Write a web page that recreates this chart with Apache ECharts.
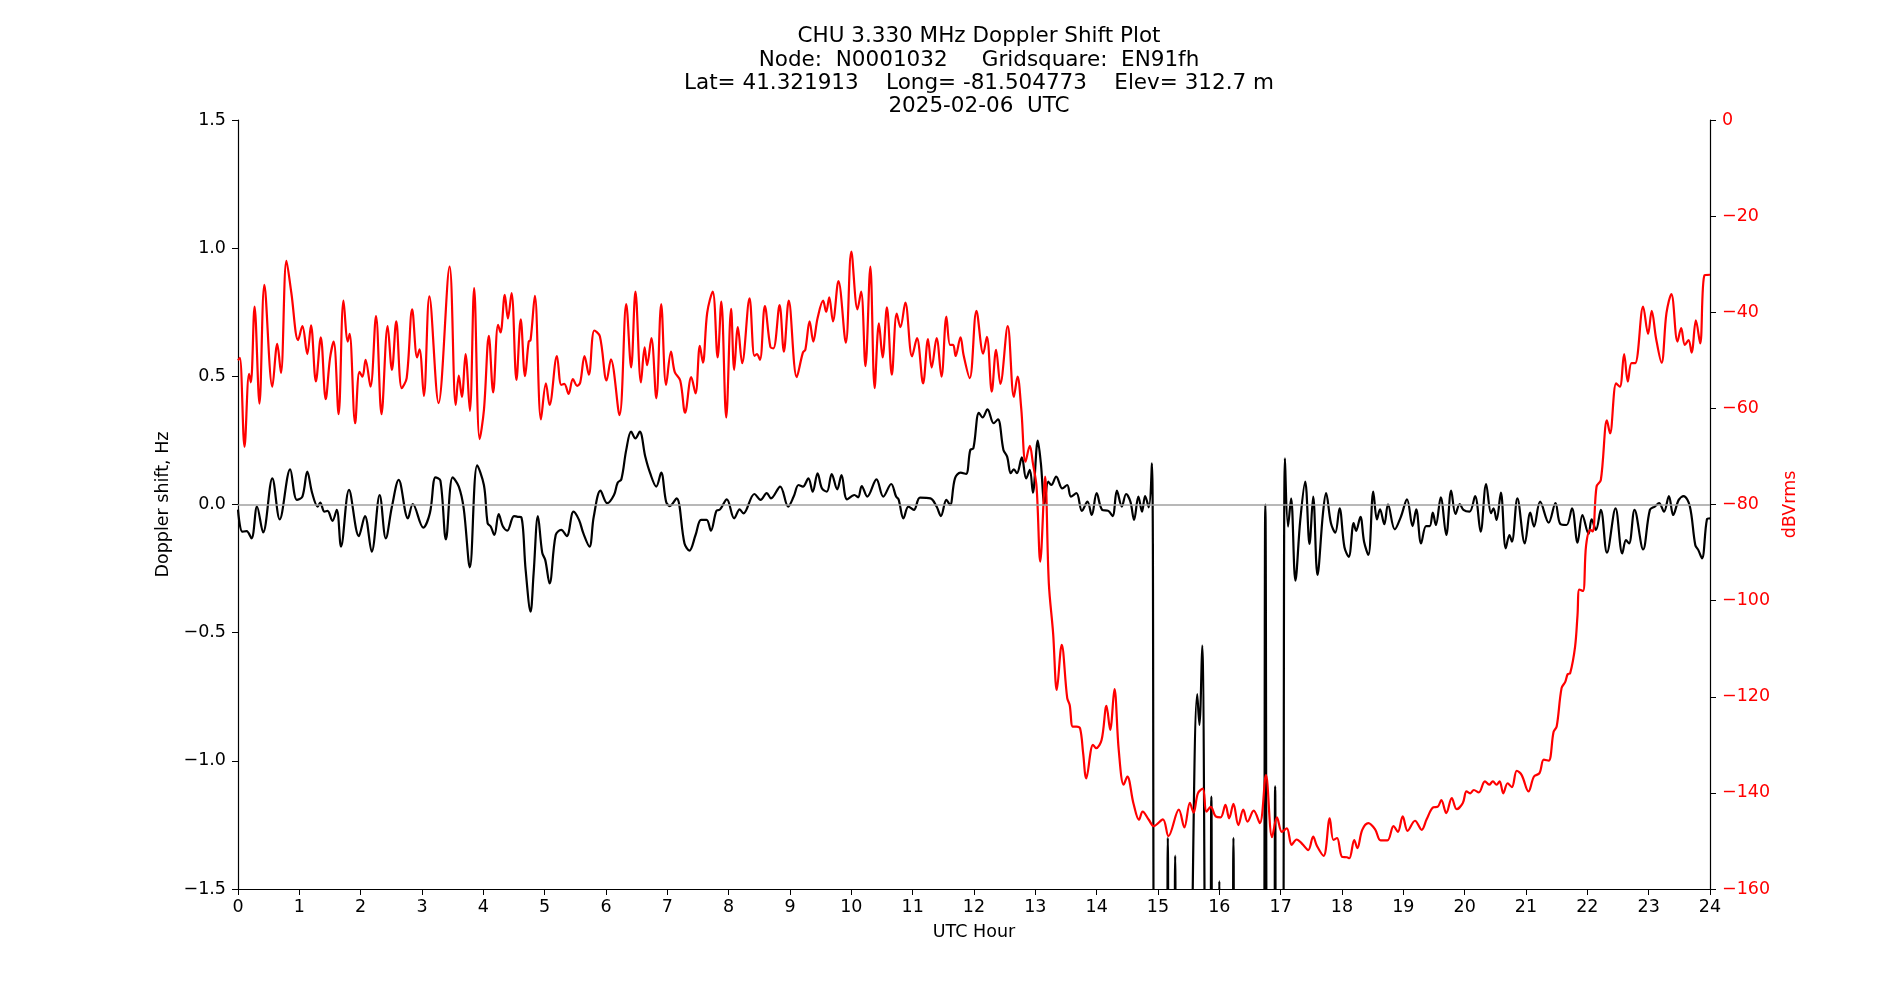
<!DOCTYPE html>
<html>
<head>
<meta charset="utf-8">
<title>CHU 3.330 MHz Doppler Shift Plot</title>
<script src="https://cdn.jsdelivr.net/npm/echarts@6/dist/echarts.min.js"></script>
<style>
  html, body { margin: 0; padding: 0; background: #ffffff; }
  #chart { width: 1900px; height: 1000px; }
</style>
</head>
<body>
<div id="chart"></div>
<script>
// Doppler shift (Hz) vs UTC hour
const dopplerPoints = [
  [0.00, -0.02], [0.07, -0.106], [0.14, -0.104], [0.22, -0.132], [0.31, -0.008], [0.41, -0.109],
  [0.56, 0.102], [0.68, -0.058], [0.85, 0.137], [0.96, 0.018], [1.05, 0.031], [1.13, 0.128],
  [1.21, 0.044], [1.30, -0.008], [1.34, 0.007], [1.41, -0.028], [1.46, -0.025], [1.54, -0.064],
  [1.61, -0.021], [1.68, -0.164], [1.81, 0.057], [1.97, -0.123], [2.07, -0.045], [2.18, -0.184],
  [2.31, 0.037], [2.41, -0.132], [2.51, -0.008], [2.62, 0.096], [2.77, -0.054], [2.85, 0.002],
  [3.02, -0.09], [3.13, -0.032], [3.22, 0.106], [3.30, 0.093], [3.39, -0.136], [3.50, 0.106],
  [3.60, 0.07], [3.68, -0.015], [3.78, -0.245], [3.90, 0.153], [4.01, 0.075], [4.07, -0.073],
  [4.12, -0.086], [4.18, -0.119], [4.25, -0.037], [4.32, -0.086], [4.39, -0.102], [4.50, -0.045],
  [4.56, -0.048], [4.62, -0.05], [4.69, -0.256], [4.77, -0.418], [4.82, -0.268], [4.89, -0.045],
  [4.96, -0.188], [5.01, -0.217], [5.08, -0.308], [5.18, -0.119], [5.27, -0.099], [5.36, -0.123],
  [5.47, -0.028], [5.56, -0.06], [5.63, -0.112], [5.73, -0.164], [5.80, -0.048], [5.91, 0.054],
  [6.02, 0.005], [6.13, 0.037], [6.19, 0.085], [6.25, 0.098], [6.33, 0.213], [6.41, 0.284],
  [6.48, 0.258], [6.55, 0.284], [6.64, 0.187], [6.72, 0.122], [6.82, 0.07], [6.90, 0.124],
  [6.98, 0.011], [7.04, -0.006], [7.15, 0.024], [7.28, -0.152], [7.36, -0.18], [7.46, -0.119],
  [7.55, -0.06], [7.64, -0.06], [7.71, -0.102], [7.80, -0.025], [7.86, -0.019], [7.97, 0.02],
  [8.09, -0.054], [8.18, -0.019], [8.24, -0.035], [8.42, 0.041], [8.52, 0.018], [8.62, 0.044],
  [8.69, 0.024], [8.84, 0.07], [8.97, -0.008], [9.06, 0.031], [9.14, 0.076], [9.21, 0.07],
  [9.30, 0.102], [9.37, 0.05], [9.45, 0.122], [9.52, 0.063], [9.60, 0.05], [9.68, 0.119],
  [9.77, 0.059], [9.84, 0.115], [9.93, 0.02], [10.05, 0.037], [10.11, 0.028], [10.17, 0.072],
  [10.26, 0.031], [10.41, 0.098], [10.52, 0.031], [10.65, 0.08], [10.73, 0.031], [10.77, 0.02],
  [10.85, -0.054], [10.93, -0.008], [11.02, -0.021], [11.12, 0.027], [11.29, 0.024], [11.39, -0.008],
  [11.46, -0.045], [11.55, 0.018], [11.61, -0.002], [11.69, 0.102], [11.78, 0.124], [11.87, 0.119],
  [11.94, 0.213], [11.99, 0.219], [12.08, 0.358], [12.14, 0.34], [12.22, 0.371], [12.32, 0.317],
  [12.39, 0.332], [12.48, 0.213], [12.54, 0.187], [12.60, 0.122], [12.65, 0.137], [12.70, 0.122],
  [12.78, 0.184], [12.85, 0.102], [12.91, 0.135], [12.96, 0.046], [13.04, 0.249], [13.09, 0.161],
  [13.15, 0.002], [13.21, 0.089], [13.26, 0.076], [13.34, 0.109], [13.44, 0.063], [13.52, 0.076],
  [13.58, 0.031], [13.67, 0.044], [13.76, -0.025], [13.85, 0.011], [13.92, -0.041], [14.00, 0.044],
  [14.09, -0.021], [14.19, -0.025], [14.26, -0.045], [14.33, 0.054], [14.41, -0.008], [14.48, 0.041],
  [14.55, 0.011], [14.61, -0.06], [14.68, 0.031], [14.74, -0.028], [14.79, 0.033], [14.85, -0.011],
  [14.90, 0.161], [14.97, -2.5], [15.13, -2.5], [15.16, -1.3], [15.19, -2.5], [15.25, -2.5],
  [15.28, -1.37], [15.31, -2.5], [15.45, -2.5], [15.64, -0.74], [15.675, -0.86], [15.72, -0.55],
  [15.80, -2.5], [15.84, -2.5], [15.87, -1.14], [15.90, -2.5], [15.97, -2.5], [16.00, -1.47],
  [16.03, -2.5], [16.20, -2.5], [16.23, -1.3], [16.26, -2.5], [16.70, -2.5], [16.75, 0.0],
  [16.80, -2.5], [16.88, -2.5], [16.91, -1.1], [16.94, -2.5], [17.02, -2.5], [17.07, 0.18],
  [17.12, -0.086], [17.17, 0.024], [17.24, -0.297], [17.32, -0.06], [17.40, 0.089], [17.47, -0.154],
  [17.53, 0.031], [17.60, -0.275], [17.69, -0.034], [17.74, 0.044], [17.82, -0.073], [17.89, -0.11],
  [17.96, -0.015], [18.04, -0.167], [18.11, -0.204], [18.19, -0.073], [18.23, -0.103], [18.30, -0.048],
  [18.36, -0.145], [18.43, -0.197], [18.51, 0.05], [18.57, -0.058], [18.62, -0.019], [18.69, -0.077],
  [18.75, 0.001], [18.86, -0.097], [18.96, -0.048], [19.06, 0.02], [19.15, -0.084], [19.21, -0.019],
  [19.29, -0.152], [19.37, -0.084], [19.43, -0.084], [19.48, -0.032], [19.53, -0.08], [19.61, 0.028],
  [19.70, -0.119], [19.78, 0.054], [19.85, -0.037], [19.92, 0.002], [19.98, -0.021], [20.08, -0.028],
  [20.17, 0.033], [20.26, -0.106], [20.35, 0.08], [20.43, -0.034], [20.47, -0.015], [20.52, -0.06],
  [20.59, 0.046], [20.67, -0.171], [20.73, -0.119], [20.77, -0.145], [20.86, 0.024], [20.98, -0.152],
  [21.07, -0.032], [21.13, -0.086], [21.23, 0.011], [21.37, -0.071], [21.48, 0.005], [21.56, -0.076],
  [21.66, -0.08], [21.75, -0.015], [21.84, -0.149], [21.92, -0.041], [22.02, -0.115], [22.07, -0.058],
  [22.14, -0.099], [22.22, -0.021], [22.32, -0.188], [22.46, -0.015], [22.57, -0.191], [22.63, -0.139],
  [22.68, -0.152], [22.77, -0.021], [22.91, -0.175], [23.02, -0.021], [23.10, -0.008], [23.17, 0.005],
  [23.25, -0.028], [23.33, 0.033], [23.40, -0.041], [23.49, 0.018], [23.57, 0.033], [23.67, -0.006],
  [23.76, -0.158], [23.81, -0.178], [23.87, -0.21], [23.95, -0.058], [24.00, -0.054]
];

// received level (dBVrms) vs UTC hour
const powerPoints = [
  [0.00, -50], [0.03, -49.5], [0.106, -68], [0.18, -52.8], [0.21, -54.6], [0.27, -38.8],
  [0.35, -59], [0.43, -34.3], [0.56, -55.5], [0.64, -46.6], [0.70, -52.6], [0.79, -29.3],
  [0.87, -36], [0.98, -45.8], [1.05, -42.9], [1.13, -48.7], [1.19, -42.7], [1.27, -54.4],
  [1.35, -45.2], [1.43, -58.1], [1.50, -49.6], [1.56, -46.1], [1.64, -61.2], [1.72, -37.6],
  [1.79, -46.1], [1.82, -44.5], [1.91, -63.1], [1.98, -52.4], [2.03, -53.4], [2.08, -49.9],
  [2.16, -55.5], [2.25, -40.8], [2.34, -61.2], [2.44, -42.9], [2.51, -52], [2.58, -41.9],
  [2.67, -55.8], [2.75, -53.7], [2.84, -39.4], [2.92, -49.4], [2.96, -47.7], [3.03, -57.4],
  [3.12, -36.7], [3.27, -58.9], [3.45, -30.5], [3.55, -59.3], [3.60, -53.2], [3.65, -57.6],
  [3.71, -48.7], [3.78, -60.5], [3.85, -35], [3.94, -66.4], [4.01, -60.3], [4.09, -44.9],
  [4.16, -56.7], [4.24, -42.6], [4.28, -44.2], [4.35, -36.4], [4.40, -41.3], [4.46, -36],
  [4.54, -54.1], [4.61, -41.5], [4.68, -53.3], [4.74, -46.1], [4.77, -45.8], [4.84, -36.6],
  [4.94, -62.3], [5.02, -54.8], [5.08, -59.3], [5.20, -49.1], [5.27, -55.1], [5.32, -54.9],
  [5.39, -57], [5.46, -53.9], [5.53, -55.3], [5.58, -54.6], [5.65, -49.1], [5.72, -53],
  [5.81, -43.8], [5.90, -45], [6.01, -54.2], [6.08, -49.8], [6.22, -61.4], [6.33, -38.3],
  [6.41, -51.5], [6.48, -35.7], [6.57, -54.6], [6.63, -47.3], [6.67, -51], [6.74, -45.4],
  [6.82, -57.9], [6.90, -38.3], [6.98, -55.1], [7.06, -48.2], [7.12, -52.4], [7.21, -54.2],
  [7.29, -60.9], [7.39, -53.5], [7.46, -56.9], [7.53, -47], [7.58, -50.5], [7.65, -40.1],
  [7.74, -35.7], [7.82, -49.4], [7.88, -37.8], [7.96, -61.9], [8.04, -39.3], [8.09, -52],
  [8.15, -43.1], [8.22, -50.6], [8.34, -37.1], [8.42, -49.1], [8.46, -48.7], [8.51, -49.9],
  [8.59, -38.7], [8.68, -47.2], [8.73, -47.5], [8.83, -38.5], [8.90, -48.2], [8.98, -37.6],
  [9.11, -53.5], [9.21, -48.4], [9.25, -47.8], [9.32, -41.9], [9.38, -46.1], [9.45, -41.2],
  [9.54, -37.6], [9.59, -39.9], [9.64, -36.9], [9.70, -41.9], [9.79, -33.5], [9.91, -46.3],
  [10.00, -27.4], [10.10, -39.4], [10.16, -35.7], [10.23, -51.2], [10.31, -30.5], [10.38, -55.8],
  [10.45, -42.3], [10.51, -49.4], [10.58, -39], [10.66, -53], [10.74, -40.3], [10.80, -43.1],
  [10.88, -38], [10.99, -49.2], [11.07, -45.4], [11.17, -54.8], [11.25, -45.6], [11.31, -51.5],
  [11.39, -45.4], [11.47, -53.4], [11.55, -40.9], [11.61, -46.8], [11.66, -46.8], [11.70, -49.1],
  [11.78, -45.2], [11.83, -48.9], [11.93, -53.7], [12.04, -39.7], [12.15, -48.6], [12.21, -45.1],
  [12.29, -56.5], [12.36, -47.8], [12.43, -54.9], [12.55, -42.9], [12.65, -57.6], [12.71, -53.4],
  [12.77, -60], [12.84, -71.1], [12.91, -67.8], [12.96, -71.4], [13.02, -76.3], [13.08, -91.9],
  [13.16, -74.2], [13.22, -96.4], [13.29, -106.8], [13.35, -118.6], [13.43, -109.2], [13.52, -120.3],
  [13.56, -121.7], [13.61, -126.2], [13.67, -126.2], [13.73, -126.6], [13.78, -131.8], [13.83, -137],
  [13.94, -130], [13.99, -130.7], [14.08, -129], [14.16, -121.9], [14.22, -126.9], [14.29, -118.4],
  [14.36, -131.1], [14.44, -138.3], [14.50, -136.6], [14.60, -142.2], [14.69, -145.6], [14.75, -143.9],
  [14.85, -145.6], [14.93, -146.9], [15.08, -145.5], [15.17, -149], [15.34, -143.5], [15.43, -147.2],
  [15.52, -142.1], [15.58, -144.1], [15.65, -140.1], [15.73, -139.1], [15.79, -143.9], [15.86, -142.9],
  [15.94, -144.9], [16.02, -145.1], [16.10, -142.5], [16.16, -145.3], [16.23, -142.3], [16.31, -146.7],
  [16.39, -143.5], [16.46, -146], [16.56, -143.7], [16.66, -146.3], [16.76, -136.3], [16.86, -149.2],
  [16.94, -145.1], [17.02, -148.1], [17.10, -147.4], [17.18, -150.8], [17.26, -149.7], [17.35, -150.6],
  [17.45, -151.9], [17.53, -149.1], [17.59, -151], [17.70, -153.1], [17.80, -145.3], [17.86, -149.8],
  [17.92, -149.4], [18.00, -153.3], [18.08, -153.4], [18.12, -153.6], [18.20, -149.8], [18.25, -151.5],
  [18.33, -147.7], [18.43, -146.3], [18.54, -147.6], [18.63, -149.9], [18.74, -149.9], [18.84, -146.9],
  [18.91, -148.1], [18.99, -144.9], [19.07, -147.9], [19.19, -145.8], [19.30, -147.7], [19.38, -145.5],
  [19.49, -143], [19.56, -142.9], [19.62, -141.5], [19.70, -144.2], [19.79, -141.1], [19.87, -143.4],
  [19.97, -142.1], [20.03, -139.7], [20.09, -140.1], [20.15, -139.4], [20.23, -139.9], [20.33, -137.6],
  [20.40, -138.3], [20.46, -137.6], [20.52, -138.3], [20.57, -137.6], [20.63, -140.1], [20.70, -138],
  [20.77, -138.8], [20.85, -135.4], [20.93, -136.3], [21.04, -139.7], [21.13, -136.6], [21.22, -135.9],
  [21.29, -133.1], [21.37, -133.3], [21.45, -127.3], [21.50, -126.2], [21.58, -118.2], [21.64, -116.9],
  [21.68, -115.3], [21.72, -115.1], [21.80, -109.6], [21.84, -103], [21.87, -97.7], [21.93, -98],
  [21.98, -88.5], [22.05, -85.3], [22.09, -85.6], [22.15, -76.3], [22.22, -74.9], [22.32, -62.5],
  [22.37, -65.2], [22.47, -54.8], [22.53, -55.5], [22.60, -48.7], [22.66, -54.4], [22.72, -50.6],
  [22.78, -50.6], [22.91, -38.8], [22.99, -44.5], [23.05, -39.7], [23.12, -45.4], [23.21, -50.5],
  [23.29, -40.2], [23.37, -36.2], [23.47, -46.1], [23.53, -43.3], [23.59, -46.8], [23.65, -45.8],
  [23.70, -48.4], [23.77, -41.7], [23.84, -46.5], [23.91, -32.3], [24.00, -32.2]
];

const titleLines = [
  'CHU 3.330 MHz Doppler Shift Plot',
  'Node:  N0001032     Gridsquare:  EN91fh',
  'Lat= 41.321913    Long= -81.504773    Elev= 312.7 m',
  '2025-02-06  UTC'
];

const font = 'DejaVu Sans';
const minus = (v, digits) => (v < 0 ? '\u2212' : '') + Math.abs(v).toFixed(digits);

const chart = echarts.init(document.getElementById('chart'));

chart.setOption({
  animation: false,
  backgroundColor: '#ffffff',
  title: {
    text: titleLines.join('\n'),
    left: 974,
    top: 20,
    textAlign: 'center',
    textStyle: { fontFamily: font, fontSize: 21.5, fontWeight: 'normal', color: '#000', lineHeight: 23.3 }
  },
  grid: { left: 238, right: 190, top: 120, bottom: 111 },
  xAxis: {
    type: 'value',
    min: 0,
    max: 24,
    interval: 1,
    name: 'UTC Hour',
    nameLocation: 'middle',
    nameGap: 34,
    nameTextStyle: { fontFamily: font, fontSize: 17.5, color: '#000' },
    axisLine: { onZero: false, lineStyle: { color: '#000', width: 1.2 } },
    axisTick: { length: 6, lineStyle: { color: '#000' } },
    axisLabel: { fontFamily: font, fontSize: 17.5, color: '#000', margin: 9 },
    splitLine: { show: false }
  },
  yAxis: [
    {
      type: 'value',
      min: -1.5,
      max: 1.5,
      interval: 0.5,
      name: 'Doppler shift, Hz',
      nameLocation: 'middle',
      nameGap: 56,
      nameTextStyle: { fontFamily: font, fontSize: 17.5, color: '#000' },
      axisLine: { show: true, lineStyle: { color: '#000', width: 1.2 } },
      axisTick: { show: true, length: 6, lineStyle: { color: '#000' } },
      axisLabel: { fontFamily: font, fontSize: 17.5, color: '#000', margin: 12, formatter: (v) => minus(v, 1) },
      splitLine: { show: false }
    },
    {
      type: 'value',
      min: -160,
      max: 0,
      interval: 20,
      position: 'right',
      name: 'dBVrms',
      nameLocation: 'middle',
      nameRotate: 90,
      nameGap: 60,
      nameTextStyle: { fontFamily: font, fontSize: 17.5, color: '#ff0000' },
      axisLine: { show: true, lineStyle: { color: '#000', width: 1.2 } },
      axisTick: { show: true, length: 6, lineStyle: { color: '#000' } },
      axisLabel: { fontFamily: font, fontSize: 17.5, color: '#ff0000', margin: 12, formatter: (v) => minus(v, 0) },
      splitLine: { show: false }
    }
  ],
  series: [
    {
      name: 'Doppler',
      type: 'line',
      yAxisIndex: 0,
      data: dopplerPoints,
      showSymbol: false,
      smooth: 0.35,
      lineStyle: { color: '#000000', width: 2.2 },
      z: 3,
      markLine: {
        silent: true,
        symbol: 'none',
        label: { show: false },
        lineStyle: { color: '#a0a0a0', width: 1.5, type: 'solid' },
        data: [{ yAxis: 0 }]
      }
    },
    {
      name: 'Level',
      type: 'line',
      yAxisIndex: 1,
      data: powerPoints,
      showSymbol: false,
      smooth: 0.35,
      lineStyle: { color: '#ff0000', width: 2.2 },
      z: 4
    }
  ]
});
</script>
</body>
</html>
